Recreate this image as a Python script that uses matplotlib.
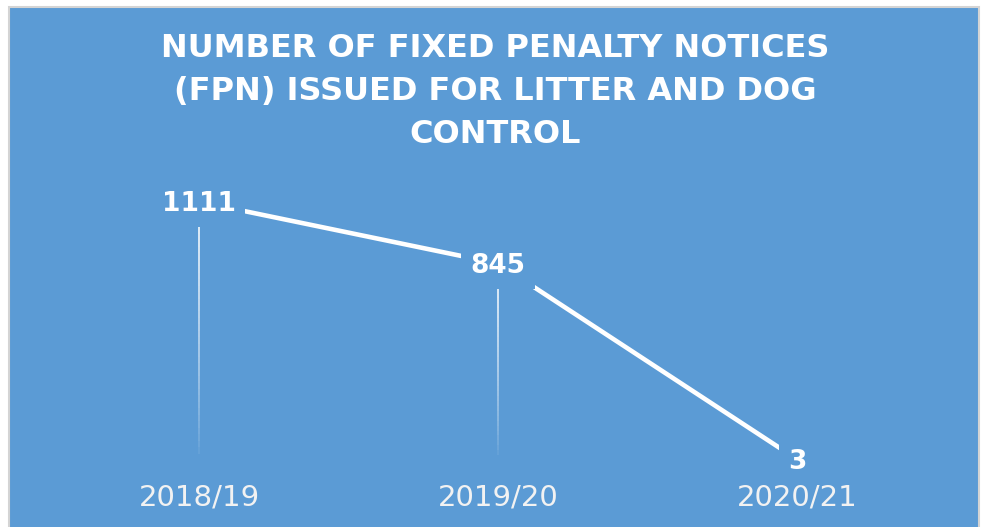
import numpy as np
import matplotlib
matplotlib.use("Agg")
import matplotlib.pyplot as plt
from matplotlib.patches import Rectangle

# data
years = ["2018/19", "2019/20", "2020/21"]
fpn_counts = [1111, 845, 3]

title = "NUMBER OF FIXED PENALTY NOTICES\n(FPN) ISSUED FOR LITTER AND DOG\nCONTROL"

blue = "#5B9BD5"

fig = plt.figure(figsize=(9.85, 5.27), dpi=100)
fig.patch.set_facecolor("white")

# blue chart panel with thin grey border
fig.patches.append(Rectangle((0.0091, -0.02), 0.9848, 1.0067, transform=fig.transFigure,
                             facecolor=blue, edgecolor="#D4D4D4", lw=1.5, zorder=-5))

fig.text(0.503, 0.826, title, ha="center", va="center", color="white",
         fontsize=23, fontweight="bold", family="DejaVu Sans", linespacing=1.5)

ax = fig.add_axes([0.0503, 0.1271, 0.9107, 0.5294], zorder=2)
ax.set_facecolor("none")
x = np.arange(len(years))

# drop lines, fading towards the axis
n = 40
for xi, v in zip(x, fpn_counts):
    ys = np.linspace(0, v, n + 1)
    for k in range(n):
        ax.plot([xi, xi], [ys[k], ys[k + 1]], color="white", lw=1.3,
                alpha=min(1.0, 0.95 * (k / n) ** 0.7), solid_capstyle="butt", zorder=1)

ax.plot(x, fpn_counts, color="white", lw=3.3, solid_capstyle="butt", zorder=2)

for xi, v in zip(x, fpn_counts):
    ax.annotate(str(v), (xi, v), xytext=(0, -2), textcoords="offset points",
                ha="center", va="center", color="white", fontsize=19,
                fontweight="bold", zorder=3,
                bbox=dict(boxstyle="square,pad=0.35", facecolor=blue, edgecolor="none"))

ax.set_xlim(-0.5, len(years) - 0.5)
ax.set_ylim(0, 1200)
ax.set_xticks(x)
ax.set_xticklabels(years, color="#F2F2F2", fontsize=21)
ax.tick_params(axis="x", length=0, pad=17)
ax.set_yticks([])
for s in ax.spines.values():
    s.set_visible(False)

fig.savefig("out.png", dpi=100, facecolor=fig.get_facecolor())
